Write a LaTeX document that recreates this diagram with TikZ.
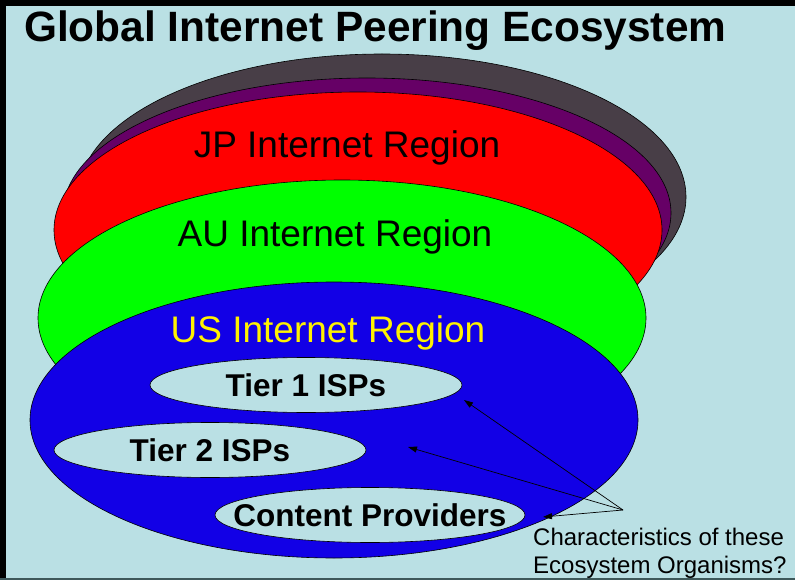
\documentclass[tikz,border=0pt]{standalone}
\usepackage{fontspec}
\setmainfont{Liberation Sans}
\usepackage{tikz}
\usetikzlibrary{
    shapes.geometric,
    arrows.meta,
    positioning
}
\definecolor{Cbg}{RGB}{186, 224, 228}
\definecolor{Cgray}{RGB}{72, 62, 71}
\definecolor{Cpurple}{RGB}{102, 0, 102}
\definecolor{Cblue}{RGB}{18, 0, 230}
\definecolor{Cedge}{RGB}{62, 88, 90}
\tikzset{
    region/.style={
        ellipse, draw=black, line width=0.6pt, inner sep=0pt,
        minimum width=608pt, minimum height=276pt
    },
    rlabel/.style={
        anchor=base, inner sep=0pt, font=\fontsize{37}{40}\selectfont
    },
    orgbox/.style={
        ellipse, draw=black, line width=0.6pt, fill=Cbg, inner sep=0pt,
        minimum width=312pt, minimum height=55pt,
        font=\fontsize{31.5}{34}\selectfont\bfseries
    },
    parr/.style={-{Triangle[length=9pt, width=6pt]}, line width=0.7pt, black},
}

\begin{document}
\begin{tikzpicture}[x=1pt, y=-1pt]

    % ── 背景与边框 ──────────────────────────────────────
    \useasboundingbox (0,0) rectangle (795,580);
    \fill [Cbg] (0,0) rectangle (795,580);
    \fill [black] (0,0) rectangle (795,6);
    \fill [black] (0,0) rectangle (6,580);
    \fill [Cedge] (0,578) rectangle (795,580);

    % ── 标题 ────────────────────────────────────────────
    \node [anchor=base west, inner sep=0pt, font=\fontsize{42.4}{46}\selectfont\bfseries]
        (title) at (24,42) {Global Internet Peering Ecosystem};

    % ── 区域椭圆（由后向前）────────────────────────────
    \node [region, fill=Cgray, minimum height=286pt] (back) at (382,197) {};
    \node [region, fill=Cpurple, minimum height=270pt] (mid) at (367,213) {};
    \node [region, fill=red] (jp) at (358,230) {};
    \node [region, fill=green] (au) at (342,318) {};
    \node [region, fill=Cblue] (us) at (334,420) {};

    \node [rlabel] (jplabel) at (347,158) {JP Internet Region};
    \node [rlabel] (aulabel) at (335,247) {AU Internet Region};
    \node [rlabel, text=yellow] (uslabel) at (328,342) {US Internet Region};

    % ── US 区域内的组织 ─────────────────────────────────
    \node [orgbox] (tier1) at (306,385) {Tier 1 ISPs};
    \node [orgbox] (tier2) at (210,450) {Tier 2 ISPs};
    \node [orgbox, minimum width=310pt, inner xsep=-32pt] (content) at (370,515) {Content Providers};

    % ── 注释与箭头 ──────────────────────────────────────
    \node [anchor=north west, inner sep=0pt, align=left, font=\fontsize{24}{28}\selectfont]
        (question) at (533,528) {Characteristics of these\\Ecosystem Organisms?};

    \coordinate (fork) at (623,510);
    \coordinate (tonetip) at (464,400);
    \coordinate (ttwotip) at (408,447);
    \coordinate (conttip) at (543,517);

    \draw [parr] (fork) -- (tonetip);
    \draw [parr] (fork) -- (ttwotip);
    \draw [parr] (fork) -- (conttip);

\end{tikzpicture}
\end{document}
